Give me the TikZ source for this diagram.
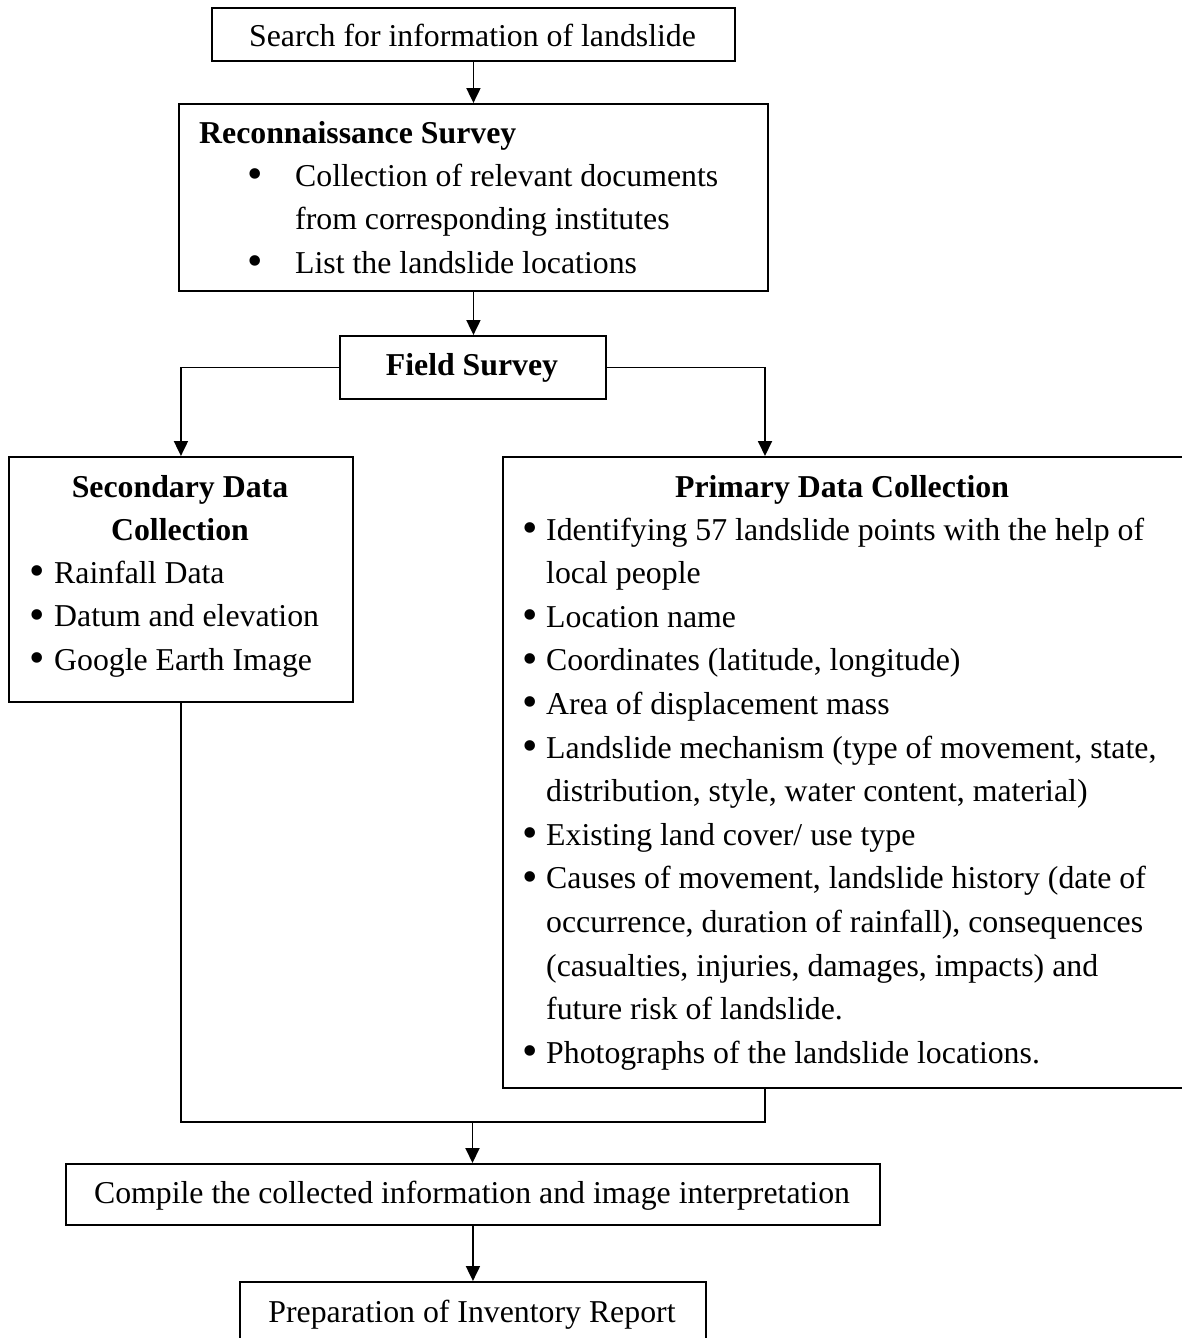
\documentclass[tikz,border=0pt]{standalone}
\usepackage{fontspec}
\setmainfont{Liberation Serif}
\usetikzlibrary{arrows.meta}
\newcommand{\bul}[1]{\makebox[#1][l]{\hspace*{-1.5pt}\raisebox{-2.5pt}{\fontsize{44}{0}\selectfont\textbullet}}}
\begin{document}
\begin{tikzpicture}[x=1pt,y=-1pt,
  box/.style={draw, line width=1.9pt, rectangle, inner sep=0pt, anchor=north west},
  lbl/.style={inner sep=0pt, anchor=base, font=\fontsize{31.8}{43.6}\selectfont},
  lbll/.style={lbl, anchor=base west},
  conn/.style={line width=1.9pt},
  arr/.style={conn, -{Triangle[length=15pt,width=14pt]}}]
\fill[white] (0,0) rectangle (1181,1338);
\useasboundingbox (0,0) rectangle (1181,1338);

% boxes
\node[box, minimum width=523, minimum height=53] (search) at (211,7) {};
\node[lbl] (searchT) at (472.5,47) {Search for information of landslide};

\node[box, minimum width=589, minimum height=187] (recon) at (178,103) {};
\node[lbll] (reconT) at (199,143) {\textbf{Reconnaissance Survey}};
\node[lbll] (reconL) at (248.4,186) {\begin{tabular}[t]{@{}l@{}}
\bul{46.6pt}Collection of relevant documents\\
\hspace*{46.6pt}from corresponding institutes\\
\bul{46.6pt}List the landslide locations
\end{tabular}};

\node[box, minimum width=266, minimum height=63] (field) at (339,335) {};
\node[lbl] (fieldT) at (472,375) {\textbf{Field Survey}};

\node[box, minimum width=344, minimum height=245] (sec) at (8,456) {};
\node[lbl] (secT) at (180,497) {\begin{tabular}[t]{@{}c@{}}
\textbf{Secondary Data}\\
\textbf{Collection}
\end{tabular}};
\node[lbll] (secL) at (30.4,583) {\begin{tabular}[t]{@{}l@{}}
\bul{23.6pt}Rainfall Data\\
\bul{23.6pt}Datum and elevation\\
\bul{23.6pt}Google Earth Image
\end{tabular}};

\node[box, minimum width=683, minimum height=631] (prim) at (502,456) {};
\node[lbl] (primT) at (842,497) {\textbf{Primary Data Collection}};
\node[lbll] (primL) at (524,540) {\begin{tabular}[t]{@{}l@{}}
\bul{22pt}Identifying 57 landslide points with the help of\\
\hspace*{22pt}local people\\
\bul{22pt}Location name\\
\bul{22pt}Coordinates (latitude, longitude)\\
\bul{22pt}Area of displacement mass\\
\bul{22pt}Landslide mechanism (type of movement, state,\\
\hspace*{22pt}distribution, style, water content, material)\\
\bul{22pt}Existing land cover/ use type\\
\bul{22pt}Causes of movement, landslide history (date of\\
\hspace*{22pt}occurrence, duration of rainfall), consequences\\
\hspace*{22pt}(casualties, injuries, damages, impacts) and\\
\hspace*{22pt}future risk of landslide.\\
\bul{22pt}Photographs of the landslide locations.
\end{tabular}};

\node[box, minimum width=814, minimum height=61] (comp) at (65,1163) {};
\node[lbl] (compT) at (472,1203) {Compile the collected information and image interpretation};

\node[box, minimum width=466, minimum height=61] (rep) at (239,1281) {};
\node[lbl] (repT) at (472,1322) {Preparation of Inventory Report};

% connectors
\coordinate (primIn) at (765,456);
\coordinate (primOut) at (765,1087);
\coordinate (merge) at (472.5,1122);
\draw[arr] (search.south) -- (recon.north);
\draw[arr] (recon.south) -- (recon.south |- field.north);
\draw[arr] (field.west) -| (sec.north);
\draw[arr] (field.east) -| (primIn);
\draw[conn] (sec.south) |- (merge) -| (primOut);
\draw[arr] (merge) -- (merge |- comp.north);
\draw[arr] (comp.south) -- (comp.south |- rep.north);
\end{tikzpicture}
\end{document}
